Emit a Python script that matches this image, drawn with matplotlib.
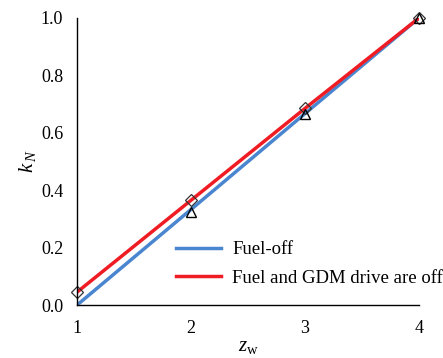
import matplotlib.pyplot as plt

plt.rcParams['font.family'] = 'Liberation Serif'
plt.rcParams['mathtext.fontset'] = 'custom'
plt.rcParams['mathtext.rm'] = 'Liberation Serif'
plt.rcParams['mathtext.it'] = 'Liberation Serif:italic'

z_w = [1, 2, 3, 4]
k_fuel_off = [0.0, 0.333, 0.667, 1.0]
k_fuel_gdm_off = [0.045, 0.365, 0.685, 1.0]

# measured points drawn over the lines
z_tri = [2, 3, 4]
k_tri = [0.325, 0.665, 1.0]
z_dia = [1, 2, 3, 4]
k_dia = [0.045, 0.365, 0.685, 1.0]

fig = plt.figure(figsize=(4.43, 3.58), dpi=100)
ax = fig.add_axes([0.174, 0.148, 0.772, 0.802])

ax.plot(z_w, k_fuel_off, color='#4a86d0', lw=2.5, label='Fuel-off')
ax.plot(z_w, k_fuel_gdm_off, color='#f01c24', lw=2.5, label='Fuel and GDM drive are off')
ax.plot(z_dia, k_dia, ls='none', marker='D', ms=6, mfc='none', mec='#333333',
        mew=0.9, clip_on=False)
ax.plot(z_tri, k_tri, ls='none', marker='^', ms=7.5, mfc='none', mec='black',
        mew=1.0, clip_on=False)

ax.set_xlim(1, 4)
ax.set_ylim(0, 1.0)
ax.set_xticks([1, 2, 3, 4])
ax.set_yticks([0.0, 0.2, 0.4, 0.6, 0.8, 1.0])
ax.set_yticklabels(['0.0', '0.2', '0.4', '0.6', '0.8', '1.0'])
ax.tick_params(length=0, labelsize=13)
ax.tick_params(axis='y', pad=10)
ax.tick_params(axis='x', pad=11)
for s in ['top', 'right']:
    ax.spines[s].set_visible(False)
ax.spines['left'].set_linewidth(1.0)
ax.spines['bottom'].set_linewidth(1.0)

ax.set_xlabel(r'$z_{\mathrm{w}}$', fontsize=15, labelpad=0)
ax.set_ylabel(r'$k_{\,N}$', fontsize=15, labelpad=2)

ax.legend(loc='lower right', bbox_to_anchor=(1.12, 0.005), frameon=False,
          fontsize=13.5, handlelength=2.4, handletextpad=0.6, labelspacing=0.6)

fig.savefig('out.png', dpi=100)
